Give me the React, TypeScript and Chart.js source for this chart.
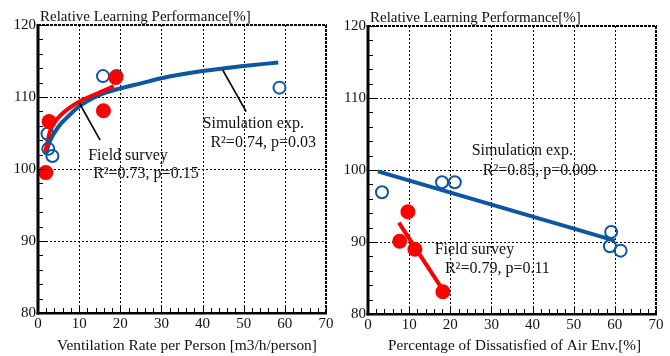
import React, { useEffect, useRef } from "react";
import { Chart, registerables } from "chart.js";

Chart.register(...registerables);

// ---------- Data ----------
const yAxisTitle = "Relative Learning Performance[%]";
const xGridValues = [10, 20, 30, 40, 50, 60];
const yGridValues = [90, 100, 110];

// Left panel: ventilation rate
const ventSimX = [15.8, 19.1, 58.7, 2.3, 2.5, 3.5];
const ventSimY = [112.9, 112.9, 111.3, 104.9, 102.8, 101.8];
const ventFieldX = [2.7, 1.9, 15.9, 18.9];
const ventFieldY = [106.6, 99.5, 108.1, 112.7];
const ventSimFitX = [1.8, 3, 5, 7.5, 10, 15, 20, 25, 30, 40, 50, 58.4];
const ventSimFitY = [102.0, 104.0, 105.9, 107.4, 108.7, 110.3, 111.2, 111.9, 112.6, 113.6, 114.3, 114.8];
const ventFieldFitX = [1.8, 3, 5.4, 10, 15, 18.4];
const ventFieldFitY = [102.4, 105.4, 107.4, 109.35, 110.65, 111.5];

// Right panel: dissatisfied
const dissSimX = [3.4, 18.0, 21.1, 59.1, 58.8, 61.4];
const dissSimY = [96.9, 98.3, 98.3, 91.4, 89.4, 88.8];
const dissFieldX = [9.7, 7.7, 11.4, 18.2];
const dissFieldY = [94.2, 90.1, 89.0, 83.1];
const dissSimFitX = [2.4, 60.0];
const dissSimFitY = [99.8, 90.2];
const dissFieldFitX = [7.5, 17.9];
const dissFieldFitY = [92.7, 83.6];

const BLUE = "#0b57a4";
const RED = "#ff0000";
const FONT = "'Liberation Serif', 'Times New Roman', serif";

const pts = (xs: number[], ys: number[]) => xs.map((x, i) => ({ x, y: ys[i] }));

type Note = { text: string; x: number; y: number };
type Leader = { x1: number; y1: number; x2: number; y2: number };

// dotted line made of small rectangles (vertical or horizontal)
function dotV(ctx: any, x: number, y1: number, y2: number, w: number, on: number, off: number) {
  for (let y = y1; y < y2; y += on + off) ctx.fillRect(x, y, w, Math.min(on, y2 - y));
}
function dotH(ctx: any, y: number, x1: number, x2: number, h: number, on: number, off: number) {
  for (let x = x1; x < x2; x += on + off) ctx.fillRect(x, y, Math.min(on, x2 - x), h);
}

function makePlugin(notes: Note[], leaders: Leader[], xTitle: string, xTitleCenter: number, xTitleSize: number) {
  const line = (ctx: any, x1: number, y1: number, x2: number, y2: number) => {
    ctx.beginPath();
    ctx.moveTo(x1, y1);
    ctx.lineTo(x2, y2);
    ctx.stroke();
  };
  return {
    id: "frameAndNotes",
    beforeDatasetsDraw(chart: any) {
      const { ctx, chartArea: a } = chart;
      const xs = chart.scales.x;
      const ys = chart.scales.y;
      ctx.save();
      ctx.fillStyle = "#000";
      xGridValues.forEach((v) => {
        const p = Math.round(xs.getPixelForValue(v));
        dotV(ctx, p, Math.round(a.top), Math.round(a.bottom), 1, 2, 2);
      });
      yGridValues.forEach((v) => {
        const p = Math.round(ys.getPixelForValue(v));
        dotH(ctx, p, Math.round(a.left), Math.round(a.right), 1, 2, 2);
      });
      ctx.restore();
    },
    afterDraw(chart: any) {
      const { ctx, chartArea: a } = chart;
      const xs = chart.scales.x;
      const ys = chart.scales.y;
      const L = Math.round(a.left), R = Math.round(a.right), T = Math.round(a.top), B = Math.round(a.bottom);
      ctx.save();
      ctx.fillStyle = "#000";
      ctx.strokeStyle = "#000";
      // top/right borders (dashed, 2px)
      dotH(ctx, T - 1, L, R + 1, 2, 3, 1);
      dotV(ctx, R - 1, T, B, 2, 3, 1);
      // left/bottom axes (solid)
      ctx.fillRect(L - 1.5, T - 1, 3, B - T + 2.5);
      ctx.fillRect(L - 1.5, B - 1, R - L + 2.5, 2.5);
      // inward ticks
      for (let v = 80; v <= 120; v += 2) {
        const p = Math.round(ys.getPixelForValue(v));
        const len = v % 10 === 0 ? 9 : 5;
        ctx.fillRect(L, p, len, 1);
      }
      for (let v = 0; v <= 70; v += 2) {
        const p = Math.round(xs.getPixelForValue(v));
        const len = v % 10 === 0 ? 8 : 5;
        ctx.fillRect(p, B - len, 1, len);
      }
      // y-axis title at top
      ctx.fillStyle = "#111";
      ctx.font = `15px ${FONT}`;
      ctx.textBaseline = "middle";
      ctx.textAlign = "left";
      ctx.fillText(yAxisTitle, a.left + 2, a.top - 8);
      // x-axis title
      ctx.font = `${xTitleSize}px ${FONT}`;
      ctx.textAlign = "center";
      ctx.fillText(xTitle, xTitleCenter, 346);
      ctx.textAlign = "left";
      // leader lines
      ctx.lineWidth = 1.6;
      leaders.forEach((l) =>
        line(ctx, xs.getPixelForValue(l.x1), ys.getPixelForValue(l.y1), xs.getPixelForValue(l.x2), ys.getPixelForValue(l.y2))
      );
      // notes
      ctx.font = `16px ${FONT}`;
      notes.forEach((n) => {
        ctx.fillText(n.text, xs.getPixelForValue(n.x), ys.getPixelForValue(n.y));
      });
      ctx.restore();
    },
  };
}

function makeConfig(opts: {
  simX: number[]; simY: number[]; fieldX: number[]; fieldY: number[];
  simFitX: number[]; simFitY: number[]; fieldFitX: number[]; fieldFitY: number[];
  tension: number; xTitle: string; xTitleCenter: number; xTitleSize: number;
  yWidth: number; xHeight: number; padRight: number; padTop: number;
  notes: Note[]; leaders: Leader[];
}): any {
  return {
    type: "scatter",
    data: {
      datasets: [
        {
          label: "Field survey",
          data: pts(opts.fieldX, opts.fieldY),
          pointRadius: 7.5,
          pointBackgroundColor: RED,
          pointBorderColor: RED,
          borderWidth: 0,
          showLine: false,
        },
        {
          label: "Simulation exp.",
          data: pts(opts.simX, opts.simY),
          pointRadius: 6,
          pointBackgroundColor: "transparent",
          pointBorderColor: BLUE,
          pointBorderWidth: 2,
          showLine: false,
        },
        {
          label: "Field fit",
          data: pts(opts.fieldFitX, opts.fieldFitY),
          showLine: true,
          borderColor: RED,
          borderWidth: 4,
          pointRadius: 0,
          tension: opts.tension,
          cubicInterpolationMode: "monotone",
        },
        {
          label: "Sim fit",
          data: pts(opts.simFitX, opts.simFitY),
          showLine: true,
          borderColor: BLUE,
          borderWidth: 4,
          pointRadius: 0,
          tension: opts.tension,
          cubicInterpolationMode: "monotone",
        },
      ],
    },
    options: {
      animation: false,
      responsive: true,
      maintainAspectRatio: false,
      devicePixelRatio: 1,
      layout: { padding: { left: 0, right: opts.padRight, top: opts.padTop, bottom: 0 } },
      plugins: { legend: { display: false }, tooltip: { enabled: false }, title: { display: false } },
      scales: {
        x: {
          type: "linear",
          min: 0,
          max: 70,
          ticks: { stepSize: 10, color: "#111", font: { family: FONT, size: 15 }, padding: 2, maxRotation: 0, autoSkip: false },
          grid: { display: false, drawTicks: false },
          border: { display: false },
          title: { display: false },
          afterFit: (s: any) => {
            s.height = opts.xHeight;
            s.paddingLeft = 0;
            s.paddingRight = 0;
          },
        },
        y: {
          type: "linear",
          min: 80,
          max: 120,
          ticks: { stepSize: 10, color: "#111", font: { family: FONT, size: 15 }, padding: 2 },
          grid: { display: false, drawTicks: false },
          border: { display: false },
          afterFit: (s: any) => {
            s.width = opts.yWidth;
            s.paddingTop = 0;
            s.paddingBottom = 0;
          },
        },
      },
    },
    plugins: [makePlugin(opts.notes, opts.leaders, opts.xTitle, opts.xTitleCenter, opts.xTitleSize)],
  };
}

function Panel({ config, left }: { config: any; left: number }) {
  const ref = useRef<HTMLCanvasElement | null>(null);
  useEffect(() => {
    if (!ref.current) return;
    const chart = new Chart(ref.current, config);
    return () => chart.destroy();
  }, [config]);
  return (
    <div style={{ position: "absolute", left, top: 0, width: 335, height: 356 }}>
      <canvas ref={ref} />
    </div>
  );
}

const leftConfig = makeConfig({
  simX: ventSimX, simY: ventSimY, fieldX: ventFieldX, fieldY: ventFieldY,
  simFitX: ventSimFitX, simFitY: ventSimFitY, fieldFitX: ventFieldFitX, fieldFitY: ventFieldFitY,
  tension: 0.4,
  xTitle: "Ventilation Rate per Person [m3/h/person]", xTitleCenter: 187, xTitleSize: 15.4,
  yWidth: 38, xHeight: 43, padRight: 9, padTop: 25,
  notes: [
    { text: "Field survey", x: 12.2, y: 101.9 },
    { text: "R²=0.73, p=0.15", x: 13.4, y: 99.3 },
    { text: "Simulation exp.", x: 40.0, y: 106.3 },
    { text: "R²=0.74, p=0.03", x: 41.9, y: 103.7 },
  ],
  leaders: [
    { x1: 10.0, y1: 109.2, x2: 15.1, y2: 104.0 },
    { x1: 44.9, y1: 113.75, x2: 50.6, y2: 107.96 },
  ],
});

const rightConfig = makeConfig({
  simX: dissSimX, simY: dissSimY, fieldX: dissFieldX, fieldY: dissFieldY,
  simFitX: dissSimFitX, simFitY: dissSimFitY, fieldFitX: dissFieldFitX, fieldFitY: dissFieldFitY,
  tension: 0,
  xTitle: "Percentage of Dissatisfied of Air Env.[%]", xTitleCenter: 179.5, xTitleSize: 15.2,
  yWidth: 33, xHeight: 42, padRight: 14, padTop: 26,
  notes: [
    { text: "Simulation exp.", x: 25.2, y: 102.6 },
    { text: "R²=0.85, p=0.009", x: 27.9, y: 99.9 },
    { text: "Field survey", x: 16.2, y: 88.9 },
    { text: "R²=0.79, p=0.11", x: 18.7, y: 86.25 },
  ],
  leaders: [],
});

export default function App() {
  return (
    <div style={{ position: "absolute", left: 0, top: 0, width: 670, height: 356, background: "#fff" }}>
      <Panel config={leftConfig} left={0} />
      <Panel config={rightConfig} left={335} />
    </div>
  );
}
